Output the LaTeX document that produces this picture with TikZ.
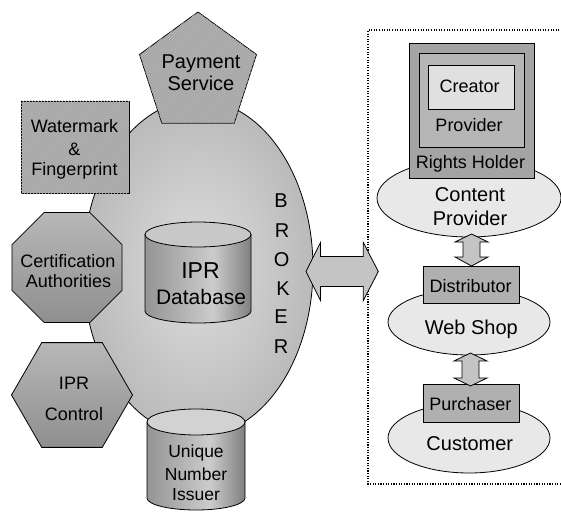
\documentclass[tikz,border=0pt]{standalone}
\usepackage{fontspec}
\setmainfont{Liberation Sans}
\usetikzlibrary{shapes.geometric,patterns}
\definecolor{hatchbg}{HTML}{A6A6A6}
\definecolor{hatchln}{HTML}{B6B6B6}
\definecolor{arrowgray}{HTML}{C4C4C4}
\definecolor{rhgray}{HTML}{A4A4A4}
\definecolor{provgray}{HTML}{B6B6B6}
\definecolor{creagray}{HTML}{E0E0E0}
\definecolor{boxgray}{HTML}{B0B0B0}
\definecolor{ellgray}{HTML}{E8E8E8}
\definecolor{captop}{HTML}{C8C8C8}
\definecolor{captop2}{HTML}{D2D2D2}
\pgfdeclarehorizontalshading{cylshade}{100bp}{rgb(0bp)=(.58,.58,.58); rgb(25bp)=(.58,.58,.58); rgb(57bp)=(.80,.80,.80); rgb(75bp)=(.50,.50,.50); rgb(100bp)=(.50,.50,.50)}
\newcommand\mysz[1]{\fontsize{#1}{#1}\selectfont}
\begin{document}
\begin{tikzpicture}[x=1pt,y=1pt,
  ol/.style={draw=black, line width=0.8pt},
  hatchfill/.style={ol, fill=hatchbg, postaction={pattern=north east lines, pattern color=hatchln}},
  polyshade/.style={ol, top color=black!28, bottom color=black!44},
  txt/.style={anchor=base, inner sep=0pt, outer sep=0pt},
  bx/.style={ol, rectangle, inner sep=0pt},
  ell/.style={ol, ellipse, inner sep=0pt, fill=ellgray},
  blockarrow/.style={ol, fill=arrowgray, line join=miter},
  dotframe/.style={line width=1.4pt, dash pattern=on 1.1pt off 1.5pt}]
\useasboundingbox (0,0) rectangle (561,512);

% Broker
\node[ol, ellipse, inner sep=0pt, minimum width=230, minimum height=336,
      inner color=black!13, outer color=black!27] (broker) at (198,244) {};

% Payment service pentagon
\node[hatchfill, regular polygon, regular polygon sides=5, minimum size=123, inner sep=0pt] (pay) at (198,438.5) {};
\node[txt, font=\mysz{20}] (payA) at (201,443.7) {Payment};
\node[txt, font=\mysz{20}] (payB) at (201,421.3) {Service};

% Watermark box
\node[hatchfill, bx, minimum width=108, minimum height=92] (wm) at (75,365) {};
\node[txt, font=\mysz{18}] (wmA) at (74.5,379.7) {Watermark};
\node[txt, font=\mysz{18}] (wmB) at (74.5,356) {\&};
\node[txt, font=\mysz{18}] (wmC) at (74.5,337) {Fingerprint};

% Certification octagon
\node[polyshade, regular polygon, regular polygon sides=8, minimum size=119.2, inner sep=0pt] (cert) at (67,244.5) {};
\node[txt, font=\mysz{18}] (certA) at (68,244.7) {Certification};
\node[txt, font=\mysz{18}] (certB) at (68.5,224.7) {Authorities};

% IPR Control hexagon
\node[polyshade, regular polygon, regular polygon sides=6, minimum size=121, inner sep=0pt] (ctrl) at (72,117) {};
\node[txt, font=\mysz{18}] (ctrlA) at (74,122.7) {IPR};
\node[txt, font=\mysz{18}] (ctrlB) at (74,91.3) {Control};

% IPR Database cylinder
\path[ol, shading=cylshade] (145,277.5) -- (145,201) arc[start angle=180, end angle=360, x radius=53, y radius=12] -- (251,277.5) -- cycle;
\draw[ol, fill=captop] (198,277.5) ellipse [x radius=53, y radius=12.5];
\node[txt, font=\mysz{23}] (dbA) at (200.5,233.7) {IPR};
\node[txt, font=\mysz{21}] (dbB) at (201,208) {Database};

% Unique Number Issuer cylinder
\path[ol, shading=cylshade] (147,90) -- (147,14) arc[start angle=180, end angle=360, x radius=49, y radius=12] -- (245,90) -- cycle;
\draw[ol, fill=captop2] (196,90) ellipse [x radius=49, y radius=13];
\node[txt, font=\mysz{17.5}] (unA) at (196,55) {Unique};
\node[txt, font=\mysz{17.5}] (unB) at (196,32) {Number};
\node[txt, font=\mysz{17.5}] (unC) at (196,11.3) {Issuer};

% BROKER letters
\node[txt, font=\mysz{20}] (bk1) at (281,304.7) {B};
\node[txt, font=\mysz{20}] (bk2) at (282,274.7) {R};
\node[txt, font=\mysz{20}] (bk3) at (281.7,245.5) {O};
\node[txt, font=\mysz{20}] (bk4) at (283,217) {K};
\node[txt, font=\mysz{20}] (bk5) at (281,188.7) {E};
\node[txt, font=\mysz{20}] (bk6) at (281,158.7) {R};

% dotted frame
\draw[dotframe] (562,482) -- (368,482) -- (368,28) -- (562,28);

% broker <-> right double arrow
\draw[blockarrow] (306,240.5) -- (320.5,269.5) -- (320.5,255.5) -- (363.3,255.5) -- (363.3,269.5)
   -- (378.3,240.5) -- (363.3,211.5) -- (363.3,225.5) -- (320.5,225.5) -- (320.5,211.5) -- cycle;

% Content provider
\node[ell, minimum width=184, minimum height=78] (cp) at (469,314) {};
\node[bx, fill=rhgray, minimum width=125, minimum height=135] (rh) at (471.5,401.5) {};
\node[bx, fill=provgray, minimum width=105, minimum height=94] (prov) at (471.5,412) {};
\node[bx, fill=creagray, minimum width=86, minimum height=44] (crea) at (471,425) {};
\node[txt, font=\mysz{18}] (creaT) at (469.7,419.3) {Creator};
\node[txt, font=\mysz{18}] (provT) at (469,380.3) {Provider};
\node[txt, font=\mysz{18}] (rhT) at (470.5,343.7) {Rights Holder};
\node[txt, font=\mysz{20}] (cpA) at (470,311) {Content};
\node[txt, font=\mysz{20}] (cpB) at (470,287) {Provider};

% Web shop
\node[ell, minimum width=162, minimum height=66] (ws) at (469,190) {};
\node[bx, fill=boxgray, minimum width=96, minimum height=37] (dist) at (471,227.5) {};
\node[txt, font=\mysz{18}] (distT) at (470.7,219.7) {Distributor};
\node[txt, font=\mysz{20}] (wsT) at (471.3,178) {Web Shop};

% Customer
\node[ell, minimum width=162, minimum height=70] (cu) at (469,74) {};
\node[bx, fill=boxgray, minimum width=96, minimum height=38] (pur) at (471,109) {};
\node[txt, font=\mysz{18}] (purT) at (470.3,101.3) {Purchaser};
\node[txt, font=\mysz{20}] (cuT) at (469.8,62) {Customer};

% vertical double arrows
\draw[blockarrow] (471.5,278) -- (488,270) -- (480,270) -- (480,255) -- (488,255) -- (471.5,246)
   -- (455,255) -- (463,255) -- (463,270) -- (455,270) -- cycle;
\draw[blockarrow] (470.5,159) -- (487,151) -- (479,151) -- (479,134) -- (487,134) -- (470.5,126)
   -- (454,134) -- (462,134) -- (462,151) -- (454,151) -- cycle;
\end{tikzpicture}
\end{document}
